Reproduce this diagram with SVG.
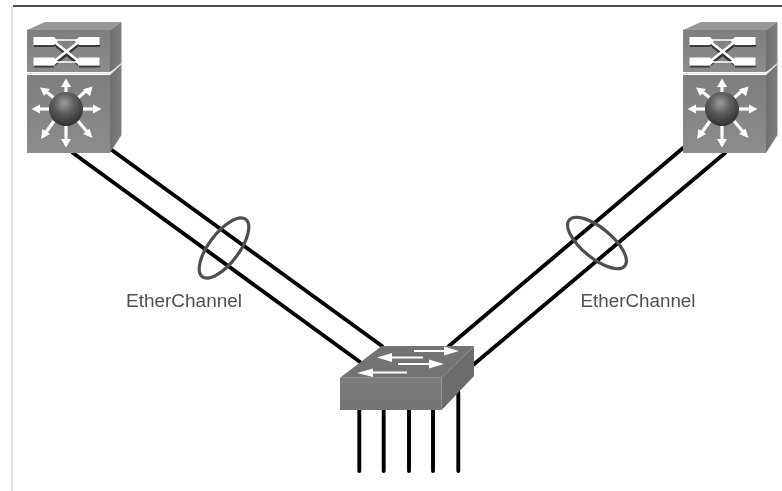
<svg xmlns="http://www.w3.org/2000/svg" xmlns:xlink="http://www.w3.org/1999/xlink" width="782" height="491" viewBox="0 0 782 491">
<style>
.wire{fill:none;stroke:#050505;stroke-width:3.9;stroke-linecap:round}
.ring{fill:none;stroke:#4f4f4f;stroke-width:3.2}
.label{font-family:"Liberation Sans",Arial,sans-serif;font-size:18px;fill:#505050}
.soft{filter:url(#soft)}
.wb{fill:#fff}
.wl{fill:none;stroke:#fff;stroke-width:2.6}
.sh{fill:none;stroke:#333;stroke-width:3.4}
.aw{fill:none;stroke:#fff;stroke-width:3.2}
</style>
<defs>
<filter id="soft" x="-5%" y="-5%" width="110%" height="110%"><feGaussianBlur stdDeviation="0.6"/></filter>
<linearGradient id="front" x1="0" y1="0" x2="0" y2="1"><stop offset="0" stop-color="#7e7e7e"/><stop offset="1" stop-color="#8c8c8c"/></linearGradient>
<linearGradient id="side" x1="0" y1="0" x2="1" y2="0"><stop offset="0" stop-color="#6e6e6e"/><stop offset="1" stop-color="#808080"/></linearGradient>
<linearGradient id="swfront" x1="0" y1="0" x2="0" y2="1"><stop offset="0" stop-color="#7c7c7c"/><stop offset="1" stop-color="#747474"/></linearGradient>
<radialGradient id="ball" cx="0.45" cy="0.33" r="0.68"><stop offset="0" stop-color="#9c9c9c"/><stop offset="0.45" stop-color="#5e5e5e"/><stop offset="1" stop-color="#2e2e2e"/></radialGradient>
<g id="mls">
<path d="M27 30L45 22H121.500L110 30Z" fill="#989898"/>
<path d="M110 30L121.500 22V64L110 72Z" fill="url(#side)"/>
<path d="M27 30H110V72H27Z" fill="url(#front)"/>
<path d="M110 75L121.500 64V135L110 153Z" fill="url(#side)"/>
<path d="M27 75H110V153H27Z" fill="url(#front)"/>
<path d="M27 73.500H110L121.500 63.500" fill="none" stroke="#e0e0e0" stroke-width="1.200"/>
<path d="M54 42L79 63M79 42L54 63" class="sh" transform="translate(0 1.500)"/>
<path d="M52 40L81 63M81 40L52 63" class="wl"/>
<path d="M54 40H79M54 62H79" stroke="#fff" stroke-width="1.600" fill="none"/>
<path d="M34 46H54M79 46H100M34 66.500H54M79 66.500H100" stroke="#3c3c3c" stroke-width="2" fill="none"/>
<path class="wb" d="M33.500 37H54L58 41L54 45H33.500Z"/>
<path class="wb" d="M99.500 37H79L75 41L79 45H99.500Z"/>
<path class="wb" d="M33.500 57.500H54L58 61.500L54 65.500H33.500Z"/>
<path class="wb" d="M99.500 57.500H79L75 61.500L79 65.500H99.500Z"/>
<g class="aw">
<path d="M66 92V84"/><path d="M66 126V142"/><path d="M49 109H37"/><path d="M83 109H96"/>
<path d="M54 98L44 90"/><path d="M78 98L88 89"/><path d="M54 121L44 135"/><path d="M78 121L89 134"/>
</g>
<g class="wb">
<path d="M66 78.500L71 87H61Z"/><path d="M66 147.500L61 139H71Z"/><path d="M31.500 109L40 104.500V113.500Z"/><path d="M101.500 109L93 104.500V113.500Z"/>
<path d="M40 87.500L50 89L44 96Z"/><path d="M92.500 86.500L90 96.500L83 89.500Z"/><path d="M41 139L42.500 129L50 134Z"/><path d="M92.500 138L83 134L89.500 128.500Z"/>
</g>
<circle cx="66" cy="109" r="17" fill="url(#ball)"/>
</g>
</defs>
<rect width="782" height="491" fill="#fff"/>
<path d="M13 6H782" stroke="#111" stroke-width="1.600" fill="none"/>
<path d="M12 6V491" stroke="#c4c4c4" stroke-width="1" fill="none"/>
<g id="connectors" class="soft">
<path class="wire" d="M73 153L360 362"/>
<path class="wire" d="M109 148L382 346"/>
<path class="wire" d="M449 346L683 148"/>
<path class="wire" d="M473 365L725 153"/>
<path class="wire" d="M359.300 410V471"/>
<path class="wire" d="M383.700 410V471"/>
<path class="wire" d="M409 410V471"/>
<path class="wire" d="M433 410V471"/>
<path class="wire" d="M458.300 392V471"/>
<ellipse class="ring" cx="224" cy="248" rx="36" ry="15" transform="rotate(-53 224 248)"/>
<ellipse class="ring" cx="597" cy="243" rx="36" ry="15" transform="rotate(39.500 597 243)"/>
</g>
<g id="switch-left" class="soft"><use xlink:href="#mls" href="#mls"/></g>
<g id="switch-right" class="soft"><use xlink:href="#mls" href="#mls" transform="translate(656 0)"/></g>
<g id="access-switch" class="soft">
<path d="M340 377.700L381.700 346H474L441.700 377.700Z" fill="#737373"/>
<path d="M441.700 377.700L474 346V376L441.700 410Z" fill="#6c6c6c"/>
<path d="M340 377.700H441.700V410H340Z" fill="url(#swfront)"/>
<g fill="none" stroke="#fff" stroke-width="2.200">
<path d="M414 351H450"/><path d="M385 357.500H423"/><path d="M398 364H434"/><path d="M367 372.500H407"/>
</g>
<g fill="#fff">
<path d="M459 351L444 346.500V355.500Z"/><path d="M377 357.500L392 353V362Z"/><path d="M444 364L429 359.500V368.500Z"/><path d="M357 373L373 368.500V377Z"/>
</g>
</g>
<g id="label-left" class="soft"><text class="label" x="126" y="307" textLength="116" lengthAdjust="spacingAndGlyphs">EtherChannel</text></g>
<g id="label-right" class="soft"><text class="label" x="580.500" y="307" textLength="115" lengthAdjust="spacingAndGlyphs">EtherChannel</text></g>
</svg>
